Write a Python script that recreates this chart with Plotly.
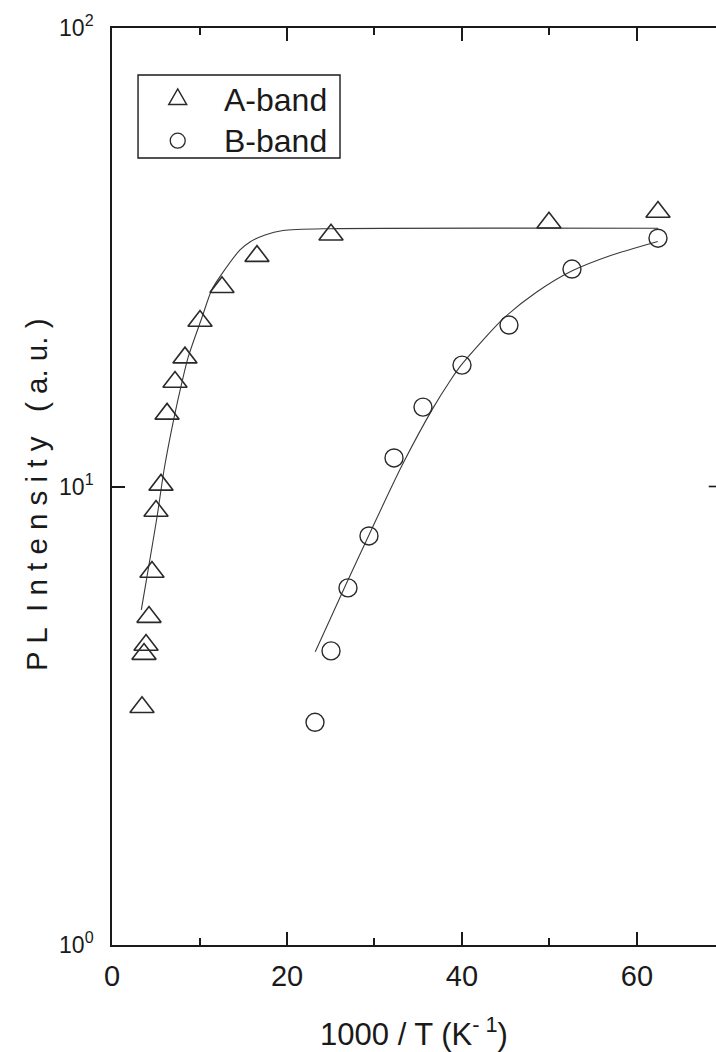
import plotly.graph_objects as go

# Measured PL intensities vs inverse temperature
a_x = [3.43, 3.66, 3.89, 4.23, 4.57, 5.03, 5.60, 6.29, 7.20, 8.34, 10.06, 12.57, 16.57, 25.03, 49.94, 62.4]
a_y = [3.30, 4.31, 4.51, 5.19, 6.51, 8.84, 10.08, 14.4, 16.9, 19.1, 22.96, 27.2, 31.8, 35.4, 37.6, 39.7]

b_x = [23.2, 25.03, 26.97, 29.37, 32.23, 35.54, 40.0, 45.37, 52.57, 62.4]
b_y = [3.06, 4.38, 6.01, 7.80, 11.54, 14.9, 18.4, 22.5, 29.8, 34.8]

# Fitted curves (sampled)
a_fit_x = [3.35, 4.13, 5.15, 5.98, 7.12, 7.97, 8.72, 10.25, 11.39, 12.34, 14.63, 15.77, 17.49, 19.54, 24.91, 62.4]
a_fit_y = [5.38, 6.58, 8.59, 10.96, 14.2, 16.8, 19.19, 23.28, 26.83, 28.69, 32.8, 34.15, 35.37, 36.18, 36.5, 36.57]

b_fit_x = [23.23, 26.63, 29.41, 33.11, 36.72, 38.63, 39.97, 44.72, 48.54, 52.54, 56.91, 62.37]
b_fit_y = [4.36, 6.05, 7.87, 11.08, 14.86, 16.99, 18.46, 23.23, 26.56, 29.51, 31.87, 34.24]

x_ticks = [0, 20, 40, 60]
y_ticks = [1, 10, 100]
y_tick_text = ["10<sup>0</sup>", "10<sup>1</sup>", "10<sup>2</sup>"]

series_names = ["A-band", "B-band"]

FONT = "Liberation Sans, Arial, sans-serif"
INK = "#1a1a1a"
MARK = "#2a2a2a"
NB = "\u00a0"

fig = go.Figure()

for fx, fy in [(a_fit_x, a_fit_y), (b_fit_x, b_fit_y)]:
    fig.add_trace(go.Scatter(
        x=fx, y=fy, mode="lines", showlegend=False, hoverinfo="skip",
        line=dict(color="#3a3a3a", width=1.1, shape="spline", smoothing=0.7),
    ))

fig.add_trace(go.Scatter(
    x=a_x, y=a_y, mode="markers", name=series_names[0], showlegend=False,
    marker=dict(symbol="triangle-up-open", size=21, color=MARK,
                line=dict(width=1.6, color=MARK)),
))
fig.add_trace(go.Scatter(
    x=b_x, y=b_y, mode="markers", name=series_names[1], showlegend=False,
    marker=dict(symbol="circle-open", size=18, color=MARK,
                line=dict(width=1.4, color=MARK)),
))

# inward tick on the right-hand frame at 10^1
fig.add_shape(type="line", xref="paper", yref="y", x0=0.988, x1=1.0, y0=10, y1=10,
              line=dict(color=INK, width=1.6))

# legend box with symbol keys
fig.add_shape(type="rect", xref="paper", yref="paper",
              x0=0.0431, x1=0.3775, y0=0.8582, y1=0.9487,
              line=dict(color=INK, width=1.4), fillcolor="white", layer="above")
fig.add_shape(type="path", xref="paper", yref="paper",
              xsizemode="pixel", ysizemode="pixel", xanchor=0.1088, yanchor=0.9222,
              path="M -9,-5.2 L 9,-5.2 L 0,10.4 Z",
              line=dict(color=MARK, width=1.4), layer="above")
fig.add_shape(type="circle", xref="paper", yref="paper",
              xsizemode="pixel", ysizemode="pixel", xanchor=0.1088, yanchor=0.8771,
              x0=-7.5, x1=7.5, y0=-7.5, y1=7.5,
              line=dict(color=MARK, width=1.3), layer="above")
for name, ypos in zip(series_names, [0.9215, 0.8771]):
    fig.add_annotation(text=name, xref="paper", yref="paper", x=0.1820, y=ypos,
                       xanchor="left", yanchor="middle", showarrow=False,
                       font=dict(family=FONT, size=32, color=INK))

# vertical axis title
fig.add_annotation(text="P L  I n t e n s i t y   ( a. u. )", textangle=-90,
                   xref="paper", yref="paper", x=-0.1258, y=0.4907,
                   xanchor="center", yanchor="middle", showarrow=False,
                   font=dict(family=FONT, size=29.5, color=INK))

fig.update_layout(
    width=716, height=1052,
    margin=dict(l=112, r=0, t=28, b=107),
    paper_bgcolor="white", plot_bgcolor="white",
    font=dict(family=FONT, color=INK),
    showlegend=False,
    xaxis=dict(
        range=[0, 69.03], tickvals=x_ticks,
        ticks="inside", ticklen=13, tickwidth=1.6, tickcolor=INK,
        minor=dict(dtick=10, tick0=0, ticks="inside", ticklen=7, tickwidth=1.6, tickcolor=INK),
        showline=True, linecolor=INK, linewidth=1.6, mirror="ticks",
        showgrid=False, zeroline=False,
        tickfont=dict(family=FONT, size=29, color=INK),
        ticklabelstandoff=4,
        title=dict(text="1000 / T (K<sup>-" + NB + "1</sup>)",
                   font=dict(family=FONT, size=31, color=INK), standoff=34),
    ),
    yaxis=dict(
        type="log", range=[0, 2], tickvals=y_ticks, ticktext=y_tick_text,
        ticks="inside", ticklen=13, tickwidth=1.6, tickcolor=INK,
        showline=True, linecolor=INK, linewidth=1.6,
        showgrid=False, zeroline=False,
        tickfont=dict(family=FONT, size=23, color=INK),
        ticklabelstandoff=12,
    ),
)

fig.write_html("out.html")
